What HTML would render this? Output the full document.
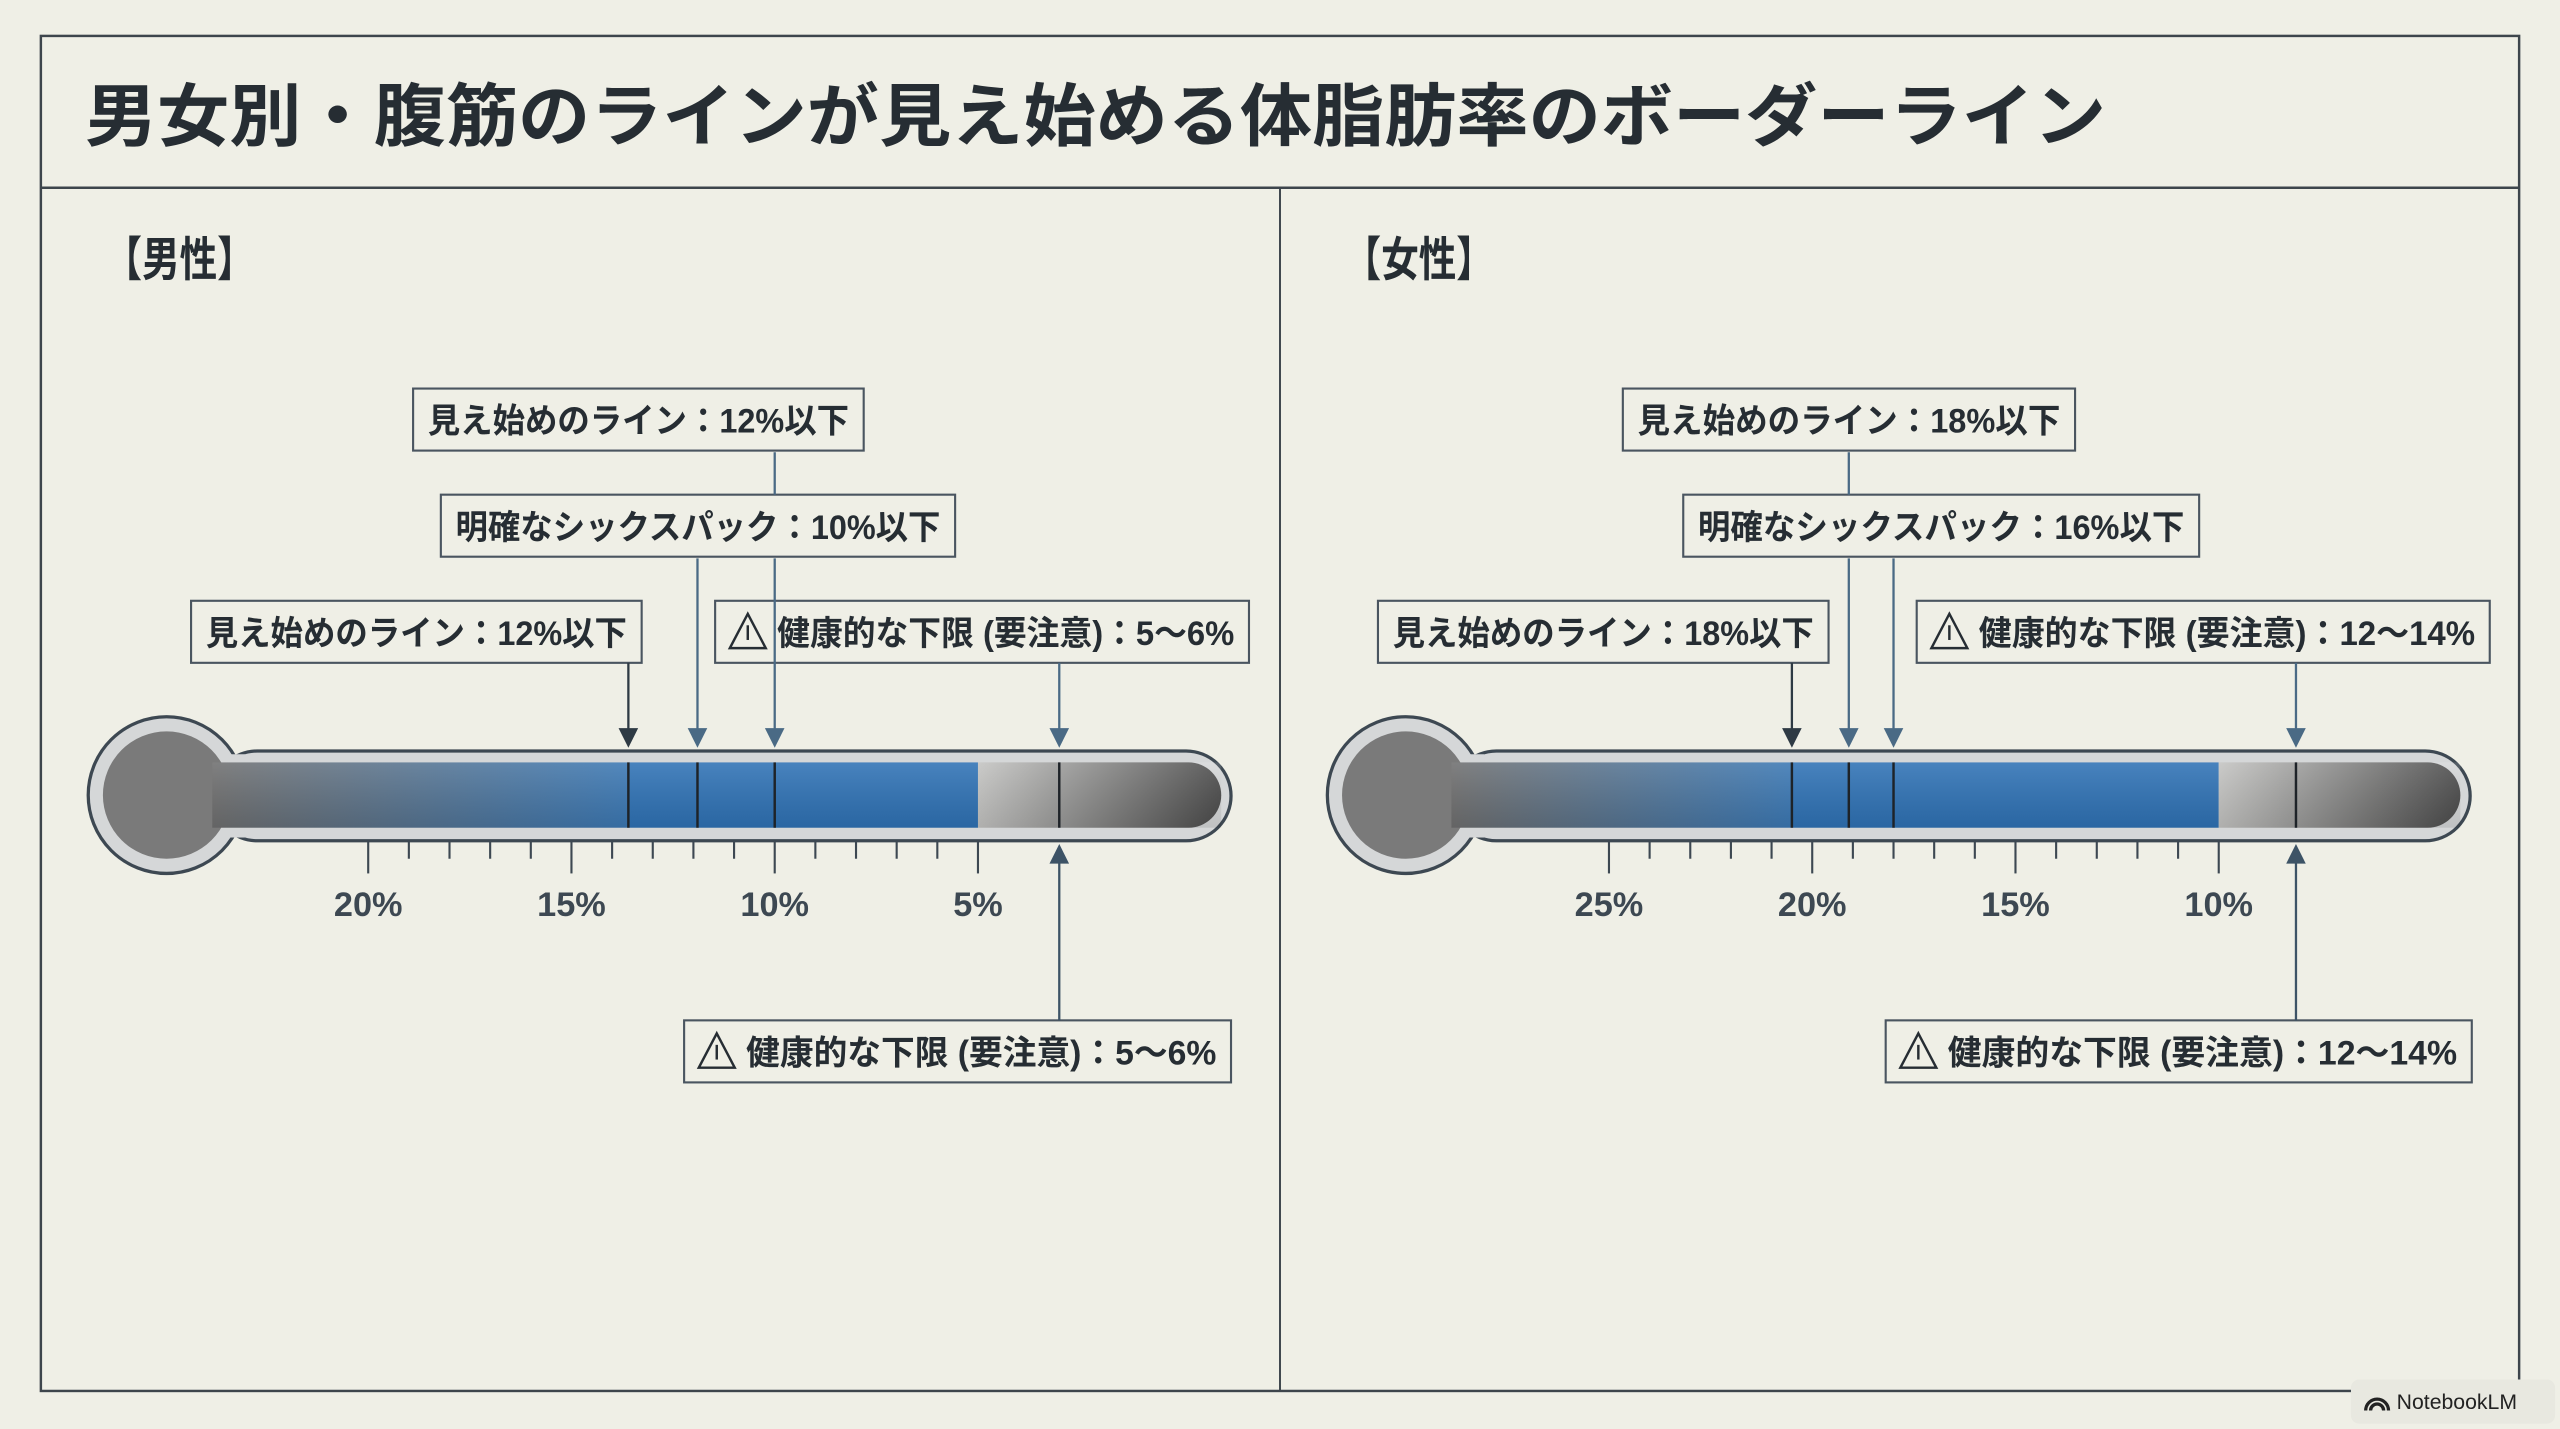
<!DOCTYPE html>
<html><head><meta charset="utf-8">
<style>
html,body{margin:0;padding:0;background:#efefe6;}
svg{display:block;}
text{font-family:"Liberation Sans","Noto Sans CJK JP",sans-serif;}
</style></head>
<body>
<svg id="chart" width="2560" height="1429" viewBox="0 0 1568 875.3" xmlns="http://www.w3.org/2000/svg">
<defs>
<linearGradient id="g0" x1="0" x2="1" y1="0" y2="0"><stop offset="0" stop-color="#6f6f6f"/><stop offset="1" stop-color="#3b78b4"/></linearGradient>
<linearGradient id="g1" x1="0" x2="1" y1="0" y2="0"><stop offset="0" stop-color="#c4c4c2"/><stop offset="1" stop-color="#4a4a4a"/></linearGradient>
<linearGradient id="gv" x1="0" x2="0" y1="0" y2="1"><stop offset="0" stop-color="#fff" stop-opacity="0.12"/><stop offset="1" stop-color="#000" stop-opacity="0.1"/></linearGradient>
</defs>
<rect x="25" y="22" width="1518" height="830" fill="none" stroke="#3d454c" stroke-width="1.5"/>
<line x1="25" y1="115" x2="1543" y2="115" stroke="#3d454c" stroke-width="1.5"/>
<line x1="784" y1="115" x2="784" y2="852" stroke="#3d454c" stroke-width="1.2"/>
<text x="52" y="86" font-size="42" font-weight="bold" fill="#262d33" textLength="1238" lengthAdjust="spacingAndGlyphs">男女別・腹筋のラインが見え始める体脂肪率のボーダーライン</text>
<g id="panels"></g>
<g>
<rect x="1440" y="845" width="125" height="27" rx="5" fill="#e8e8e0"/>
<text x="1468" y="863" font-size="13" fill="#222">NotebookLM</text>
<path d="M1449 864 a7 7 0 0 1 14 0 M1452 864 a4 4 0 0 1 8 0" stroke="#222" stroke-width="2" fill="none"/>
</g>
</svg>
<script>
const panelTitles = ["【男性】","【女性】"];
const tickLabelsM = ["20%","15%","10%","5%"];
const tickValsM = [20,15,10,5];
const tickLabelsF = ["25%","20%","15%","10%"];
const tickValsF = [25,20,15,10];
const markersM = [13.6,11.9,10,3.0];
const markersF = [20.5,19.1,18.0,8.1];
const fillEndM = 5;
const fillEndF = 10;
const labelsM = ["見え始めのライン：12%以下","明確なシックスパック：10%以下","見え始めのライン：12%以下","健康的な下限 (要注意)：5〜6%"];
const labelsF = ["見え始めのライン：18%以下","明確なシックスパック：16%以下","見え始めのライン：18%以下","健康的な下限 (要注意)：12〜14%"];

const NS="http://www.w3.org/2000/svg";
const root=document.getElementById('panels');
function mk(tag,attrs,parent){const e=document.createElementNS(NS,tag);for(const k in attrs)e.setAttribute(k,attrs[k]);(parent||root).appendChild(e);return e;}

const panels=[
 {off:0,x0:723.5,ticks:tickValsM,tlabels:tickLabelsM,markers:markersM,fillEnd:fillEndM,labels:labelsM,title:panelTitles[0],
  b1:[253,529],b2:[270,585],b3:[117,393],b4:[438,765],b5:[419,754]},
 {off:759,x0:1608,ticks:tickValsF,tlabels:tickLabelsF,markers:markersF,fillEnd:fillEndF,labels:labelsF,title:panelTitles[1],
  b1:[994,1271],b2:[1031,1347],b3:[844,1120],b4:[1174,1525],b5:[1155,1514]}
];
const K=24.9;
panels.forEach((p,pi)=>{
 const g=mk('g',{});
 
 
 const X=v=>p.x0-v*K;
 const o=p.off;
 const t=mk('text',{x:64+o,y:169,'font-size':29,'font-weight':'bold',fill:'#262d33',textLength:92,lengthAdjust:'spacingAndGlyphs'},g);t.textContent=p.title;
 
 
 const th=mk('g',{},g);
 
 
 mk('circle',{cx:102+o,cy:487,r:48,fill:'#d5d7d8',stroke:'#3d4852','stroke-width':2},th);
 mk('rect',{x:130+o,y:460,width:624,height:55,rx:27.5,fill:'#d5d7d8',stroke:'#3d4852','stroke-width':2},th);
 mk('rect',{x:120+o,y:462,width:30,height:51,fill:'#d5d7d8'},th);
 mk('circle',{cx:102+o,cy:487,r:39,fill:'#7a7a7a'},th);
 const xs=X(p.markers[0]), xe=X(p.fillEnd);
 mk('rect',{x:130+o,y:467,width:xs-130-o,height:40,fill:'url(#g0)'},th);
 const blue=mk('rect',{x:xs,y:467,width:xe-xs,height:40,fill:'#2f72b5'},th);
 
 
 mk('path',{d:`M${xe} 467 H${728+o} a20 20 0 0 1 0 40 H${xe} Z`,fill:'url(#g1)'},th);
 mk('rect',{x:130+o,y:467,width:618,height:40,fill:'url(#gv)'},th);
 const tmax=p.ticks[0], tmin=p.ticks[p.ticks.length-1];
 for(let v=tmax;v>=tmin;v--){
  const major=p.ticks.indexOf(v)>=0;
  const l=mk('line',{x1:X(v),x2:X(v),y1:515,y2:major?535:526,stroke:'#3d4852','stroke-width':1.3},g);
  
  
 }
 p.ticks.forEach((v,i)=>{
  const tl=mk('text',{x:X(v),y:561,'font-size':21,'font-weight':'bold',fill:'#3d4852','text-anchor':'middle'},g);
  tl.textContent=p.tlabels[i];
  
  
 });
 p.markers.forEach(v=>{
  const ml=mk('line',{x1:X(v),x2:X(v),y1:467,y2:507,stroke:'#1e2328','stroke-width':1.5},g);
  
  
 });
 function box(r,y,txt,warn,name){
  const bg=mk('g',{},g);
  
  
  mk('rect',{x:r[0],y:y,width:r[1]-r[0],height:38,fill:'#efefe6',stroke:'#4a5560','stroke-width':1.3},bg);
  const tx0=r[0]+(warn?38:9), tw=r[1]-tx0-9;
  const tx=mk('text',{x:tx0,y:y+27,'font-size':21,'font-weight':'bold',fill:'#262d33',textLength:tw,lengthAdjust:'spacingAndGlyphs'},bg);
  tx.textContent=txt;
  if(warn){
   const wx=r[0]+20;
   mk('path',{d:`M${wx} ${y+8} L${wx+11} ${y+29} L${wx-11} ${y+29} Z`,fill:'none',stroke:'#262d33','stroke-width':1.5},bg);
   mk('line',{x1:wx,x2:wx,y1:y+15,y2:y+24,stroke:'#262d33','stroke-width':1.5},bg);
  }
 }
 box(p.b1,238,p.labels[0],false,'label-visible-line-top');
 box(p.b2,303,p.labels[1],false,'label-six-pack');
 box(p.b3,368,p.labels[2],false,'label-visible-line');
 box(p.b4,368,p.labels[3],true,'label-health-limit-top');
 box(p.b5,625,p.labels[3],true,'label-health-limit-bottom');
 const c='#4a6a85';
 function arrowDown(x,y1,col){
  mk('line',{x1:x,x2:x,y1:y1,y2:448,stroke:col,'stroke-width':1.4},g);
  const a=mk('path',{d:`M${x-6} 446 L${x+6} 446 L${x} 458 Z`,fill:col},g);
  
  
 }
 const xm=p.markers.map(X);
 const cx=pi?xm[1]:xm[2];
 mk('line',{x1:cx,x2:cx,y1:277,y2:303,stroke:c,'stroke-width':1.4},g);
 arrowDown(xm[0],406,'#2e3a44');
 arrowDown(xm[1],342,c);
 arrowDown(xm[2],342,c);
 arrowDown(xm[3],406,c);
 mk('line',{x1:xm[3],x2:xm[3],y1:527,y2:625,stroke:'#3d5366','stroke-width':1.4},g);
 mk('path',{d:`M${xm[3]-6} 529 L${xm[3]+6} 529 L${xm[3]} 517 Z`,fill:'#3d5366'},g);
});
</script>
</body></html>
